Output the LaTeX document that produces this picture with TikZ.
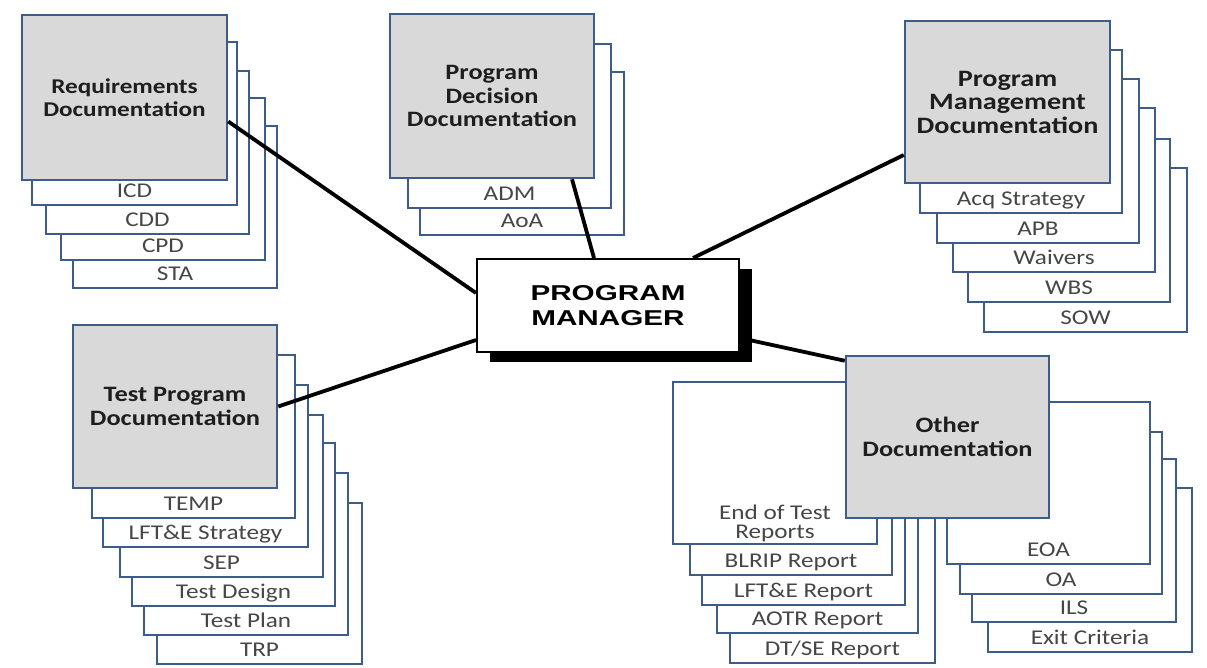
\documentclass[tikz,border=0pt]{standalone}
\usepackage{fontspec}
\setmainfont{Carlito}[FakeStretch=1.2]
\newfontfamily\pmfont{Liberation Sans}[FakeStretch=1.38]
\definecolor{boxblue}{RGB}{62,92,138}
\definecolor{boxgray}{RGB}{217,217,217}
\definecolor{titletext}{RGB}{30,30,30}
\definecolor{labtext}{RGB}{70,70,70}
\tikzset{
  docbox/.style={draw=boxblue, line width=2.5pt, fill=white, inner sep=0pt, rectangle},
  graybox/.style={draw=boxblue, line width=2.5pt, fill=boxgray, inner sep=0pt, rectangle,
     align=center, text=titletext},
  labelstyle/.style={text=labtext, font=\fontsize{21}{16.5}\selectfont, inner sep=0pt, anchor=base, align=center},
  connector/.style={draw=black, line width=3.8pt},
  pmbox/.style={draw=black, line width=2pt, fill=white, inner sep=0pt, align=center,
     font=\pmfont\bfseries\fontsize{21.5}{25}\selectfont},
  pmshadow/.style={fill=black, inner sep=0pt}
}
% #1 name, #2 x1, #3 y1, #4 x2, #5 y2, #6 label
\newcommand{\docbox}[6]{%
  \node[docbox, minimum width={(#4-#2)*1pt}, minimum height={(#5-#3)*1pt}]
     (#1) at ({(#2+#4)/2},{(#3+#5)/2}) {};
  \node[labelstyle] (#1-l) at ([yshift=9pt]#1.south) {#6};
}
% [#1 font size], #2 name, #3 x1, #4 y1, #5 x2, #6 y2, #7 title
\newcommand{\graydoc}[7][21]{%
  \node[graybox, minimum width={(#5-#3)*1pt}, minimum height={(#6-#4)*1pt},
        font=\bfseries\fontsize{#1}{23.5}\selectfont]
     (#2) at ({(#3+#5)/2},{(#4+#6)/2}) {#7};
}
\begin{document}
\begin{tikzpicture}[x=1pt,y=-1pt]
\useasboundingbox[fill=white] (0,0) rectangle (1207,668);

% Requirements stack
\docbox{sta}{73}{126}{277}{288}{STA}
\docbox{cpd}{61}{98}{265}{260}{CPD}
\docbox{cdd}{46}{71}{249}{234}{CDD}
\docbox{icd}{32}{42}{237}{205}{ICD}
\graydoc[21]{req}{22}{15}{227}{180}{Requirements\\Documentation}

% Decision stack
\docbox{aoa}{420}{72}{624}{235}{AoA}
\docbox{adm}{408}{44}{611}{208}{ADM}
\graydoc[22]{dec}{390}{14}{594}{178}{Program\\Decision\\Documentation}

% Management stack
\docbox{sow}{984}{168}{1187}{332}{SOW}
\docbox{wbs}{968}{139}{1170}{302}{WBS}
\docbox{waiv}{953}{108}{1155}{272}{Waivers}
\docbox{apb}{937}{79}{1139}{243}{APB}
\docbox{acq}{920}{50}{1122}{213}{Acq Strategy}
\graydoc[23.5]{mgt}{905}{21}{1110}{183}{Program\\Management\\Documentation}

% Test stack
\docbox{trp}{157}{503}{362}{664}{TRP}
\docbox{plan}{144}{473}{348}{635}{Test Plan}
\docbox{design}{132}{443}{335}{606}{Test Design}
\docbox{sep}{120}{415}{323}{577}{SEP}
\docbox{lfts}{103}{385}{308}{547}{LFT\&E Strategy}
\docbox{temp}{92}{355}{295}{518}{TEMP}
\graydoc[22]{tst}{73}{325}{277}{488}{Test Program\\Documentation}

% Other stack (right part)
\docbox{exit}{988}{488}{1192}{652}{Exit Criteria}
\docbox{ils}{972}{459}{1176}{622}{ILS}
\docbox{oa}{960}{432}{1162}{594}{OA}
\docbox{eoa}{947}{402}{1150}{564}{EOA}
% Other stack (left part)
\docbox{dtse}{730}{400}{935}{663}{DT/SE Report}
\docbox{aotr}{717}{400}{918}{633}{AOTR Report}
\docbox{lftr}{702}{400}{905}{605}{LFT\&E Report}
\docbox{blrip}{690}{400}{892}{575}{BLRIP Report}
\node[docbox, minimum width=204pt, minimum height=162pt] (eot) at (775,463) {};
\node[labelstyle] (eot-l) at ([yshift=6.5pt]eot.south) {End of Test\\[2.5pt]Reports};
\graydoc[22]{oth}{846}{356}{1049}{518}{Other\\Documentation}

% Program manager
\node[pmshadow, minimum width=262pt, minimum height=93pt] (pms) at (621,315.5) {};
\node[pmbox, minimum width=262pt, minimum height=93pt] (pm) at (608,305.5) {PROGRAM\\MANAGER};

% Connectors
\draw[connector] ([yshift=-24pt]req.east) -- ([yshift=12.5pt]pm.west);
\draw[connector] ([xshift=80pt]dec.south) -- ([xshift=-14pt]pm.north);
\draw[connector] ([yshift=-53pt]mgt.west) -- ([xshift=85pt]pm.north);
\draw[connector] (tst.east) -- ([yshift=-34.5pt]pm.west);
\draw[connector] ([yshift=-6pt]oth.north west) -- ([yshift=-32.5pt]pm.east);
\end{tikzpicture}
\end{document}
